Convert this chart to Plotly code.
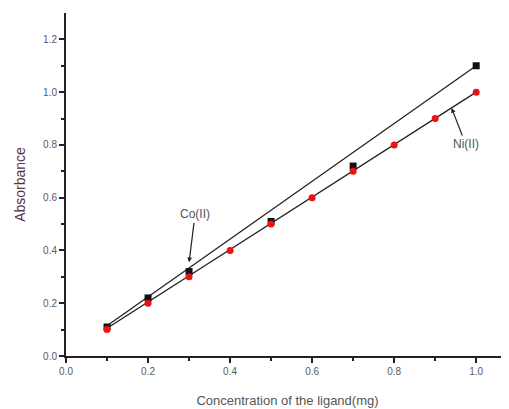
import plotly.graph_objects as go

# Data
co_x = [0.1, 0.2, 0.3, 0.5, 0.7, 1.0]
co_y = [0.11, 0.22, 0.32, 0.51, 0.72, 1.10]
ni_x = [0.1, 0.2, 0.3, 0.4, 0.5, 0.6, 0.7, 0.8, 0.9, 1.0]
ni_y = [0.10, 0.20, 0.30, 0.40, 0.50, 0.60, 0.70, 0.80, 0.90, 1.00]

# Linear fit lines (end points)
fit_x = [0.1, 1.0]
fit_co = [0.115, 1.10]
fit_ni = [0.105, 1.00]

x_ticks = [0.0, 0.2, 0.4, 0.6, 0.8, 1.0]
y_ticks = [0.0, 0.2, 0.4, 0.6, 0.8, 1.0, 1.2]

axis_col = "#2a1b2a"
text_col = "#5a5a5a"

fig = go.Figure()
fig.add_trace(go.Scatter(x=fit_x, y=fit_co, mode="lines",
                         line=dict(color="#222222", width=1.3), showlegend=False))
fig.add_trace(go.Scatter(x=fit_x, y=fit_ni, mode="lines",
                         line=dict(color="#222222", width=1.3), showlegend=False))
fig.add_trace(go.Scatter(x=co_x, y=co_y, mode="markers",
                         marker=dict(symbol="square", size=7, color="#111111"),
                         showlegend=False))
fig.add_trace(go.Scatter(x=ni_x, y=ni_y, mode="markers",
                         marker=dict(symbol="circle", size=7, color="#ee1111"),
                         showlegend=False))

fig.add_annotation(x=0.3, y=0.355, xref="x", yref="y", text="Co(II)",
                   showarrow=True, arrowhead=2, arrowsize=0.8, arrowwidth=1.2,
                   arrowcolor="#222222", ax=6, ay=-48,
                   font=dict(family="Liberation Sans, Arial", size=12, color="#555555"))
fig.add_annotation(x=0.94, y=0.94, xref="x", yref="y", text="Ni(II)",
                   showarrow=True, arrowhead=2, arrowsize=0.8, arrowwidth=1.2,
                   arrowcolor="#222222", ax=14, ay=36,
                   font=dict(family="Liberation Sans, Arial", size=12, color="#555555"))

# page body has an 8px default margin, so the figure is sized to fill the rest
fig.update_layout(
    width=501, height=401,
    margin=dict(l=58, r=0, t=5, b=53),
    paper_bgcolor="white", plot_bgcolor="white",
    font=dict(family="Liberation Sans, Arial", color=text_col),
    xaxis=dict(range=[0, 1.08], tickvals=x_ticks, ticktext=[f"{v:.1f}" for v in x_ticks],
               automargin=False,
               showgrid=False, zeroline=False, showline=True, linecolor=axis_col, linewidth=2,
               ticks="outside", ticklen=5, tickwidth=1.5, tickcolor=axis_col,
               minor=dict(tickvals=[0.1, 0.3, 0.5, 0.7, 0.9], ticks="outside", ticklen=3,
                          tickwidth=1.5, tickcolor=axis_col),
               tickfont=dict(size=10, color=text_col),
               title=dict(text="Concentration of the ligand(mg)",
                          font=dict(size=13, color="#555555"), standoff=20)),
    yaxis=dict(range=[0, 1.3], tickvals=y_ticks, ticktext=[f"{v:.1f}" for v in y_ticks],
               automargin=False,
               showgrid=False, zeroline=False, showline=True, linecolor=axis_col, linewidth=2,
               ticks="outside", ticklen=5, tickwidth=1.5, tickcolor=axis_col,
               minor=dict(tickvals=[0.1, 0.3, 0.5, 0.7, 0.9, 1.1], ticks="outside", ticklen=3,
                          tickwidth=1.5, tickcolor=axis_col),
               tickfont=dict(size=10, color=text_col),
               title=dict(text="Absorbance", font=dict(size=14, color="#553344"), standoff=14)),
)

fig.write_html("out.html")
